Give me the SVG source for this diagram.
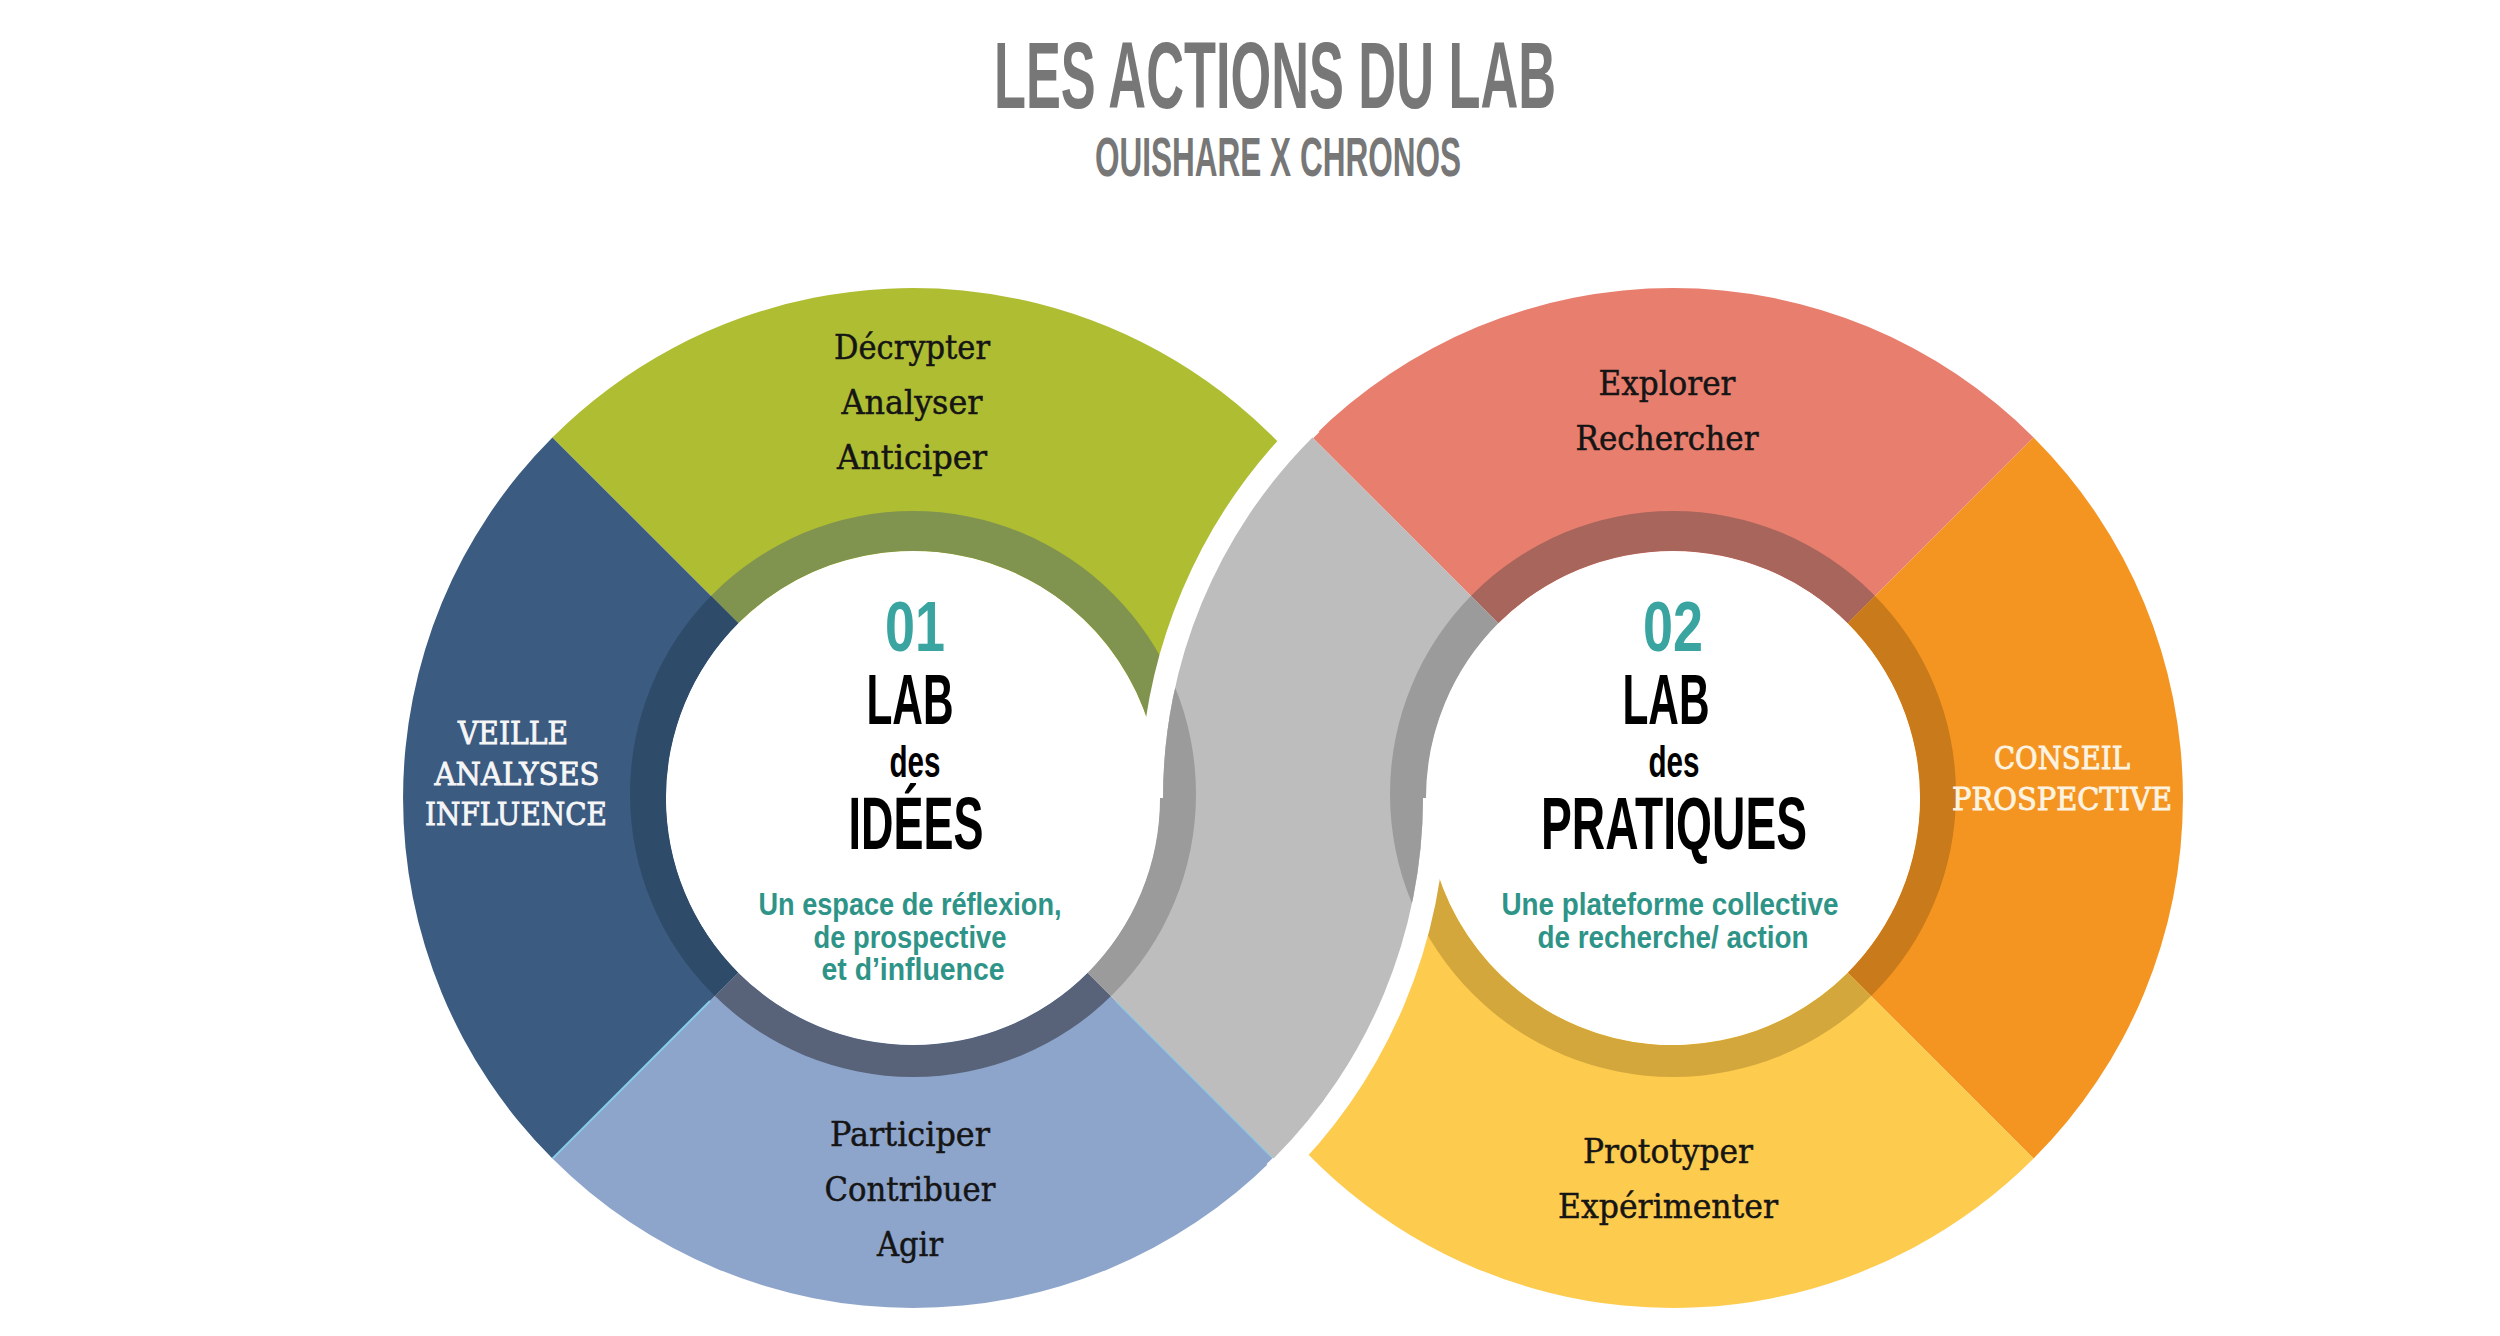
<svg xmlns="http://www.w3.org/2000/svg" xmlns:xlink="http://www.w3.org/1999/xlink" width="2500" height="1336" viewBox="0 0 2500 1336">
<style>
.cond{font-family:"Liberation Sans",Arial,sans-serif;font-weight:bold;text-anchor:middle}
.slab{font-family:"DejaVu Serif","Liberation Serif",serif;text-anchor:middle}
.lbl{font-size:34px;fill:#151515;stroke:#151515;stroke-width:0.5}
.cap{font-size:31px;fill:#F6F6F6;stroke:#F6F6F6;stroke-width:0.9}
.cream{fill:#FDF3E1;stroke:#FDF3E1}
.num{font-size:70px;fill:#3AA5A0}
.lab{font-size:71px;fill:#000}
.des{font-size:45px;fill:#000}
.big{font-size:74px;fill:#000}
.sub{font-size:31px;fill:#2E9488}
.gap{fill:none;stroke:#fff;stroke-width:24}
</style>
<defs>
<path id="pBlue" d="M 552.4 437.4 A 510 510 0 0 0 552.4 1158.6 L 738.3 972.7 A 247 247 0 0 1 738.3 623.3 Z"/>
<path id="pLight" d="M 1273.6 1158.6 A 510 510 0 0 1 552.4 1158.6 L 738.3 972.7 A 247 247 0 0 0 1087.7 972.7 Z"/>
<path id="pGreen" d="M 552.4 437.4 A 510 510 0 0 1 1423 798 L 1160 798 A 247 247 0 0 0 738.3 623.3 Z"/>
<path id="pRed" d="M 1312.4 437.4 A 510 510 0 0 1 2033.6 437.4 L 1847.7 623.3 A 247 247 0 0 0 1498.3 623.3 Z"/>
<path id="pOrange" d="M 2033.6 437.4 A 510 510 0 0 1 2033.6 1158.6 L 1847.7 972.7 A 247 247 0 0 0 1847.7 623.3 Z"/>
<path id="pYellow" d="M 2033.6 1158.6 A 510 510 0 0 1 1163 798 L 1426 798 A 247 247 0 0 0 1847.7 972.7 Z"/>
<path id="pGray" d="M 1163 798 A 510 510 0 0 1 1312.4 437.4 L 1498.3 623.3 A 247 247 0 0 0 1426 798 Z M 1423 798 A 510 510 0 0 1 1273.6 1158.6 L 1087.7 972.7 A 247 247 0 0 0 1160 798 Z"/>
<path id="bandL" fill-rule="evenodd" d="M 630 794 a 283 283 0 1 0 566 0 a 283 283 0 1 0 -566 0 Z M 666 798 a 247 247 0 1 0 494 0 a 247 247 0 1 0 -494 0 Z"/>
<path id="bandR" fill-rule="evenodd" d="M 1390 794 a 283 283 0 1 0 566 0 a 283 283 0 1 0 -566 0 Z M 1426 798 a 247 247 0 1 0 494 0 a 247 247 0 1 0 -494 0 Z"/>
<clipPath id="cBlue"><use xlink:href="#pBlue"/></clipPath>
<clipPath id="cLight"><use xlink:href="#pLight"/></clipPath>
<clipPath id="cGreen"><use xlink:href="#pGreen"/></clipPath>
<clipPath id="cRed"><use xlink:href="#pRed"/></clipPath>
<clipPath id="cOrange"><use xlink:href="#pOrange"/></clipPath>
<clipPath id="cYellow"><use xlink:href="#pYellow"/></clipPath>
<clipPath id="cGray"><use xlink:href="#pGray"/></clipPath>
</defs>
<rect width="2500" height="1336" fill="#fff"/>

<g id="title">
<text class="cond" x="1275" y="108" font-size="94" fill="#777" textLength="562" lengthAdjust="spacingAndGlyphs">LES ACTIONS DU LAB</text>
<text class="cond" x="1278" y="176" font-size="55" fill="#777" textLength="366" lengthAdjust="spacingAndGlyphs">OUISHARE X CHRONOS</text>
</g>

<g id="seg-decrypter">
<use xlink:href="#pGreen" fill="#AFBD33"/>
<use xlink:href="#bandL" fill="#80944F" clip-path="url(#cGreen)"/>
<text class="slab lbl" x="912" y="359" textLength="156" lengthAdjust="spacingAndGlyphs">Décrypter</text>
<text class="slab lbl" x="912" y="414" textLength="141" lengthAdjust="spacingAndGlyphs">Analyser</text>
<text class="slab lbl" x="912" y="469" textLength="150" lengthAdjust="spacingAndGlyphs">Anticiper</text>
</g>

<g id="seg-veille">
<use xlink:href="#pBlue" fill="#3C5B81"/>
<use xlink:href="#bandL" fill="#2F4B6A" clip-path="url(#cBlue)"/>
<text class="slab cap" x="513" y="744" textLength="110" lengthAdjust="spacingAndGlyphs">VEILLE</text>
<text class="slab cap" x="517" y="785" textLength="165" lengthAdjust="spacingAndGlyphs">ANALYSES</text>
<text class="slab cap" x="516" y="825" textLength="182" lengthAdjust="spacingAndGlyphs">INFLUENCE</text>
</g>

<g id="seg-participer">
<use xlink:href="#pLight" fill="#8EA5CB"/>
<path d="M 1116 1001 L 1273.6 1158.6 M 710 1001 L 552.4 1158.6" stroke="#86CDEA" stroke-width="2" fill="none"/>
<use xlink:href="#bandL" fill="#58637A" clip-path="url(#cLight)"/>
<text class="slab lbl" x="910" y="1146" textLength="160" lengthAdjust="spacingAndGlyphs">Participer</text>
<text class="slab lbl" x="910" y="1201" textLength="171" lengthAdjust="spacingAndGlyphs">Contribuer</text>
<text class="slab lbl" x="910" y="1256" textLength="66" lengthAdjust="spacingAndGlyphs">Agir</text>
</g>

<g id="seg-explorer">
<use xlink:href="#pRed" fill="#E87E6E"/>
<use xlink:href="#bandR" fill="#A8655C" clip-path="url(#cRed)"/>
<text class="slab lbl" x="1667" y="395" textLength="137" lengthAdjust="spacingAndGlyphs">Explorer</text>
<text class="slab lbl" x="1667" y="450" textLength="183" lengthAdjust="spacingAndGlyphs">Rechercher</text>
</g>

<g id="seg-conseil">
<use xlink:href="#pOrange" fill="#F59521"/>
<use xlink:href="#bandR" fill="#C97A1A" clip-path="url(#cOrange)"/>
<text class="slab cap cream" x="2062" y="769" textLength="136" lengthAdjust="spacingAndGlyphs">CONSEIL</text>
<text class="slab cap cream" x="2062" y="810" textLength="220" lengthAdjust="spacingAndGlyphs">PROSPECTIVE</text>
</g>

<g id="seg-prototyper">
<use xlink:href="#pYellow" fill="#FDCB4E"/>
<use xlink:href="#bandR" fill="#D4A73C" clip-path="url(#cYellow)"/>
<text class="slab lbl" x="1668" y="1163" textLength="170" lengthAdjust="spacingAndGlyphs">Prototyper</text>
<text class="slab lbl" x="1668" y="1218" textLength="220" lengthAdjust="spacingAndGlyphs">Expérimenter</text>
</g>

<g id="gaps">
<path class="gap" d="M 1152 798 A 521 521 0 0 1 1311.1 423.3"/>
<path class="gap" d="M 1434 798 A 521 521 0 0 1 1274.9 1172.7"/>
</g>

<g id="seg-link">
<use xlink:href="#pGray" fill="#BDBDBD"/>
<use xlink:href="#bandL" fill="#9B9B9B" clip-path="url(#cGray)"/>
<use xlink:href="#bandR" fill="#9B9B9B" clip-path="url(#cGray)"/>
</g>

<g id="node-lab-idees">
<text class="cond num" x="915" y="651" textLength="60" lengthAdjust="spacingAndGlyphs">01</text>
<text class="cond lab" x="910" y="724" textLength="87" lengthAdjust="spacingAndGlyphs">LAB</text>
<text class="cond des" x="915" y="777" textLength="51" lengthAdjust="spacingAndGlyphs">des</text>
<text class="cond big" x="916" y="849" textLength="135" lengthAdjust="spacingAndGlyphs">IDÉES</text>
<text class="cond sub" x="910" y="915" textLength="303" lengthAdjust="spacingAndGlyphs">Un espace de réflexion,</text>
<text class="cond sub" x="910" y="948" textLength="193" lengthAdjust="spacingAndGlyphs">de prospective</text>
<text class="cond sub" x="913" y="980" textLength="183" lengthAdjust="spacingAndGlyphs">et d’influence</text>
</g>

<g id="node-lab-pratiques">
<text class="cond num" x="1673" y="651" textLength="60" lengthAdjust="spacingAndGlyphs">02</text>
<text class="cond lab" x="1666" y="724" textLength="87" lengthAdjust="spacingAndGlyphs">LAB</text>
<text class="cond des" x="1674" y="777" textLength="51" lengthAdjust="spacingAndGlyphs">des</text>
<text class="cond big" x="1674" y="849" textLength="266" lengthAdjust="spacingAndGlyphs">PRATIQUES</text>
<text class="cond sub" x="1670" y="915" textLength="337" lengthAdjust="spacingAndGlyphs">Une plateforme collective</text>
<text class="cond sub" x="1673" y="948" textLength="271" lengthAdjust="spacingAndGlyphs">de recherche/ action</text>
</g>

<g id="connectors"/>
</svg>
